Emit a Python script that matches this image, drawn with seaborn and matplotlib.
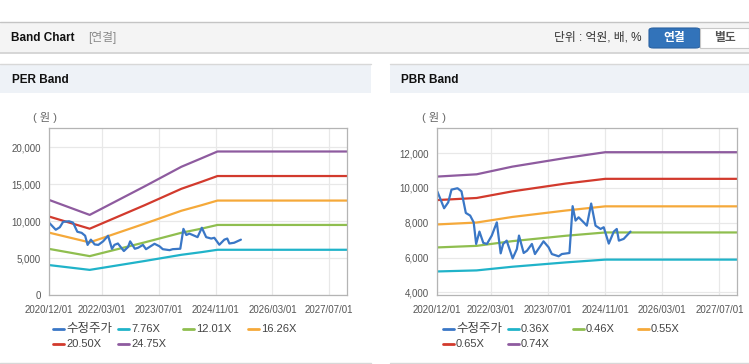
import pandas as pd
import matplotlib.pyplot as plt
import seaborn as sns
from matplotlib.lines import Line2D
from matplotlib.patches import Rectangle, FancyBboxPatch
from matplotlib.ticker import FuncFormatter

# 수정주가 (same series on both charts)
price_dates = ['2020-12-01', '2021-01-28', '2021-03-04', '2021-04-01', '2021-05-22', '2021-06-25',
               '2021-08-01', '2021-09-07', '2021-10-07', '2021-10-28', '2021-11-25', '2021-12-28',
               '2022-01-28', '2022-03-10', '2022-04-22', '2022-05-25', '2022-06-15', '2022-07-15',
               '2022-09-04', '2022-10-10', '2022-10-28', '2022-12-07', '2023-01-04', '2023-02-15',
               '2023-03-13', '2023-05-25', '2023-07-07', '2023-08-04', '2023-10-01', '2023-10-28',
               '2024-01-01', '2024-01-28', '2024-02-22', '2024-03-19', '2024-05-01', '2024-05-28',
               '2024-07-04', '2024-08-10', '2024-09-22', '2024-10-19', '2024-12-01', '2025-01-13',
               '2025-02-07', '2025-02-25', '2025-04-07', '2025-06-04']
price_values = [9800, 8830, 9170, 9900, 9980, 9800,
                8560, 8410, 8020, 6780, 7490, 6840,
                6780, 7260, 8020, 6240, 6780, 6970,
                5950, 6490, 7260, 6260, 6390, 6780,
                6200, 6930, 6590, 6200, 6070, 6200,
                6260, 8950, 8120, 8310, 8020, 7830,
                9100, 7830, 7640, 7740, 6800, 7490,
                7640, 6970, 7070, 7490]

# PER band
per_dates = ['2020-12-01', '2021-11-15', '2023-03-01', '2024-01-10', '2024-07-01', '2024-11-15', '2027-12-01']
per_776 = [4050, 3400, 4600, 5440, 5800, 6120, 6120]
per_1201 = [6240, 5260, 7120, 8420, 8980, 9480, 9480]
per_1626 = [8440, 7120, 9650, 11400, 12150, 12780, 12780]
per_2050 = [10620, 8970, 12150, 14370, 15320, 16100, 16100]
per_2475 = [12870, 10840, 14700, 17350, 18500, 19420, 19420]

# PBR band
pbr_dates = ['2020-12-01', '2021-11-01', '2022-09-01', '2023-12-01', '2024-11-01', '2027-12-01']
pbr_036 = [5200, 5260, 5470, 5720, 5880, 5880]
pbr_046 = [6580, 6670, 6940, 7250, 7440, 7440]
pbr_055 = [7900, 8010, 8330, 8700, 8940, 8940]
pbr_065 = [9300, 9420, 9800, 10250, 10520, 10520]
pbr_074 = [10650, 10780, 11220, 11720, 12050, 12050]

x_ticks = ['2020-12-01', '2022-03-01', '2023-07-01', '2024-11-01', '2026-03-01', '2027-07-01']
x_tick_labels = ['2020/12/01', '2022/03/01', '2023/07/01', '2024/11/01', '2026/03/01', '2027/07/01']

band_colors = ['#20b3c9', '#8fbe4f', '#f5a93a', '#d23a2d', '#8e5b9f']
price_color = '#3a77c6'

W, H = 749, 364


def fx(x):
    return x / W


def fy(y):
    return 1 - y / H


def make_df(dates, bands):
    parts = []
    for label, vals in bands.items():
        parts.append(pd.DataFrame({'date': pd.to_datetime(dates), 'value': vals, 'series': label}))
    parts.append(pd.DataFrame({'date': pd.to_datetime(price_dates), 'value': price_values, 'series': '수정주가'}))
    return pd.concat(parts, ignore_index=True)


per_df = make_df(per_dates, {'7.76X': per_776, '12.01X': per_1201, '16.26X': per_1626,
                             '20.50X': per_2050, '24.75X': per_2475})
pbr_df = make_df(pbr_dates, {'0.36X': pbr_036, '0.46X': pbr_046, '0.55X': pbr_055,
                             '0.65X': pbr_065, '0.74X': pbr_074})

sns.set_style('white')
plt.rcParams['font.family'] = ['Liberation Sans', 'Noto Sans CJK KR']

fig = plt.figure(figsize=(W / 100, H / 100), dpi=100)

# page header bar
fig.add_artist(Rectangle((0, fy(53)), 1, fy(22) - fy(53), transform=fig.transFigure,
                         facecolor='#f4f4f4', edgecolor='none'))
fig.add_artist(Line2D([0, 1], [fy(22), fy(22)], transform=fig.transFigure, color='#c4c4c4', lw=1))
fig.add_artist(Line2D([0, 1], [fy(53), fy(53)], transform=fig.transFigure, color='#d0d0d0', lw=1.2))
fig.text(fx(11), fy(38), 'Band Chart', fontsize=8.5, fontweight='bold', color='#111111', va='center')
fig.text(fx(88), fy(38), '[연결]', fontsize=8.5, color='#8a8a8a', va='center')
fig.text(fx(642), fy(38), '단위 : 억원, 배, %', fontsize=8.5, color='#333333', va='center', ha='right')
fig.add_artist(FancyBboxPatch((fx(649), fy(48)), fx(51), fy(28) - fy(48), transform=fig.transFigure,
                              boxstyle='round,pad=0,rounding_size=0.006', facecolor='#3273ba',
                              edgecolor='#2a62a2', lw=0.8))
fig.add_artist(Rectangle((fx(700), fy(48)), fx(49), fy(28) - fy(48), transform=fig.transFigure,
                         facecolor='white', edgecolor='#c8c8c8', lw=0.8))
fig.text(fx(674.5), fy(38), '연결', fontsize=8.5, fontweight='bold', color='white', ha='center', va='center')
fig.text(fx(724.5), fy(38), '별도', fontsize=8.5, fontweight='bold', color='#555555', ha='center', va='center')

panels = [
    dict(x0=0, x1=371, title='PER Band', tx=12, ax=[49, 128, 347, 295], df=per_df,
         order=['7.76X', '12.01X', '16.26X', '20.50X', '24.75X'], ylim=(0, 22600),
         yticks=[0, 5000, 10000, 15000, 20000], unit_x=33, leg_x=53),
    dict(x0=390, x1=749, title='PBR Band', tx=401, ax=[437.3, 128, 737.3, 295.3], df=pbr_df,
         order=['0.36X', '0.46X', '0.55X', '0.65X', '0.74X'], ylim=(3830, 13440),
         yticks=[4000, 6000, 8000, 10000, 12000], unit_x=422, leg_x=443),
]

for p in panels:
    fig.add_artist(Rectangle((fx(p['x0']), fy(93)), fx(p['x1'] - p['x0']), fy(64) - fy(93),
                             transform=fig.transFigure, facecolor='#eef2f7', edgecolor='none'))
    fig.add_artist(Line2D([fx(p['x0']), fx(p['x1'])], [fy(64), fy(64)], transform=fig.transFigure,
                          color='#d8d8d8', lw=1))
    fig.add_artist(Line2D([fx(p['x0']), fx(p['x1'])], [fy(363), fy(363)], transform=fig.transFigure,
                          color='#d8d8d8', lw=1))
    fig.text(fx(p['tx']), fy(80), p['title'], fontsize=8.5, fontweight='bold', color='#111111', va='center')
    fig.text(fx(p['unit_x']), fy(118), '( 원 )', fontsize=8, color='#666666', va='center')

    l, t, r, b = p['ax']
    ax = fig.add_axes([fx(l), fy(b), fx(r - l), fy(t) - fy(b)])
    order = p['order'] + ['수정주가']
    palette = dict(zip(p['order'], band_colors))
    palette['수정주가'] = price_color
    sns.lineplot(data=p['df'], x='date', y='value', hue='series', hue_order=order, palette=palette,
                 linewidth=1.6, legend=False, ax=ax)

    ax.set_xlim(pd.Timestamp('2020-12-01'), pd.Timestamp('2027-12-01'))
    ax.set_ylim(*p['ylim'])
    ax.set_xticks(pd.to_datetime(x_ticks))
    ax.set_xticklabels(x_tick_labels)
    ax.set_yticks(p['yticks'])
    ax.yaxis.set_major_formatter(FuncFormatter(lambda v, pos: f'{v:,.0f}'))
    ax.set_xlabel('')
    ax.set_ylabel('')
    ax.grid(True, color='#e8e8e8', lw=0.9)
    ax.set_axisbelow(True)
    for s in ax.spines.values():
        s.set_color('#b4b4b4')
        s.set_linewidth(0.9)
    ax.tick_params(axis='both', direction='out', length=4, width=0.8, color='#b4b4b4',
                   labelsize=7, labelcolor='#555555', pad=2)
    ax.tick_params(axis='x', pad=3)

    # legend
    entries = [('수정주가', price_color)] + list(zip(p['order'], band_colors))
    for i, (lab, col) in enumerate(entries):
        row, colpos = divmod(i, 4)
        lx = p['leg_x'] + 65 * colpos
        ly = 329 + 15 * row
        fig.add_artist(Line2D([fx(lx), fx(lx + 11)], [fy(ly), fy(ly)], transform=fig.transFigure,
                              color=col, lw=2))
        fig.text(fx(lx + 13), fy(ly), lab, fontsize=9 if lab == '수정주가' else 8,
                 color='#444444', va='center')

fig.savefig('out.png', dpi=100)
